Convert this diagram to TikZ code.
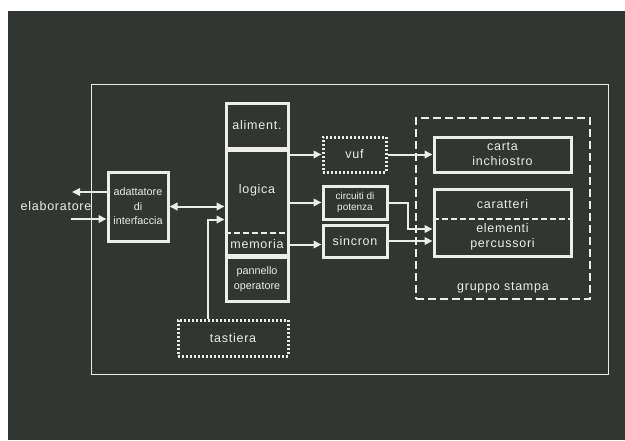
\documentclass[tikz,border=0pt]{standalone}
\usepackage{fontspec}
\setmainfont{Liberation Sans}
\newfontfamily\labfont[LetterSpace=6]{Liberation Sans}
\usetikzlibrary{arrows.meta}

\definecolor{lavagna}{HTML}{323632}
\definecolor{gesso}{HTML}{EDEDE8}

\begin{document}
\begin{tikzpicture}[x=1pt,y=-1pt,color=gesso,
    box/.style={draw=gesso,line width=3pt,inner sep=0pt,align=center},
    dotbox/.style={box,dash pattern=on 2pt off 2pt},
    dashbox/.style={draw=gesso,line width=2.2pt,dash pattern=on 8pt off 4pt,inner sep=0pt},
    divide/.style={line width=2.2pt,dash pattern=on 6pt off 3pt},
    arr/.style={line width=2pt,-{Triangle[length=8pt,width=7.5pt]}},
    lab/.style={font=\labfont\fontsize{12.5}{15}\selectfont,align=center,inner sep=0pt},
    small/.style={font=\fontsize{10.8}{14.5}\selectfont}]

    % sfondo
    \useasboundingbox (0,0) rectangle (625,440);
    \fill[white] (0,0) rectangle (625,440);
    \fill[lavagna] (8,11) rectangle (625,440);

    % cornice esterna
    \draw[line width=0.9pt] (91,84) rectangle (608,374);

    % blocchi
    \node[box,small,minimum width=60,minimum height=69] (adatt) at (138,206.5) {adattatore\\di\\interfaccia};
    \node[box,lab,minimum width=62,minimum height=45] (alim) at (257,125.5) {aliment.};
    \node[box,minimum width=62,minimum height=105] (logbox) at (257,202.5) {};
    \node[lab] (logica) at (257,190) {logica};
    \node[lab] (memoria) at (257,244.5) {memoria};
    \node[box,small,minimum width=62,minimum height=44] (pannello) at (257,279) {pannello\\operatore};
    \node[dotbox,lab,minimum width=110,minimum height=36] (tastiera) at (233,338) {tastiera};

    \node[dotbox,lab,minimum width=63,minimum height=35] (vuf) at (354.5,154.5) {vuf};
    \node[box,minimum width=64,minimum height=33,font=\fontsize{10}{11}\selectfont] (potenza) at (355,202.5) {circuiti di\\potenza};
    \node[box,lab,minimum width=64,minimum height=32] (sincron) at (355,241) {sincron};

    % gruppo stampa
    \node[dashbox,minimum width=174,minimum height=181] (gruppo) at (503,208.5) {};
    \node[lab] (gruppolab) at (503,288) {gruppo stampa};
    \node[box,lab,minimum width=137,minimum height=35] (carta) at (502.5,154.5) {carta\\inchiostro};
    \node[box,minimum width=137,minimum height=67] (percuss) at (502.5,222.5) {};
    \node[lab] (caratteri) at (502.5,204) {caratteri};
    \node[lab] (elementi) at (502.5,236.5) {elementi\\percussori};

    % divisioni tratteggiate
    \draw[divide] ([yshift=-30.5pt]logbox.west) -- ([yshift=-30.5pt]logbox.east);
    \draw[divide] ([yshift=3.5pt]percuss.west) -- ([yshift=3.5pt]percuss.east);

    % elaboratore
    \node[lab] (elab) at (56,206) {elaboratore};
    \coordinate (elabout) at (72,192);
    \coordinate (elabin) at (71,219);
    \draw[arr] (adatt.west |- elabout) -- (elabout);
    \draw[arr] (elabin) -- (elabin -| adatt.west);

    % collegamenti
    \draw[arr,{Triangle[length=8pt,width=7.5pt]}-{Triangle[length=8pt,width=7.5pt]}] (adatt.east) -- (adatt.east -| logbox.west);
    \draw[arr] ([xshift=-25pt]tastiera.north) |- ([yshift=-17pt]logbox.west);
    \draw[arr] (logbox.east |- vuf.west) -- (vuf.west);
    \draw[arr] (logbox.east |- potenza.west) -- (potenza.west);
    \draw[arr] (memoria.east -| logbox.east) -- (memoria.east -| sincron.west);
    \draw[arr] (vuf.east) -- (carta.west);
    \draw[arr] (potenza.east) -- ++(19,0) |- ([yshift=-6.5pt]percuss.west);
    \draw[arr] (sincron.east) -- (sincron.east -| percuss.west);

\end{tikzpicture}
\end{document}
